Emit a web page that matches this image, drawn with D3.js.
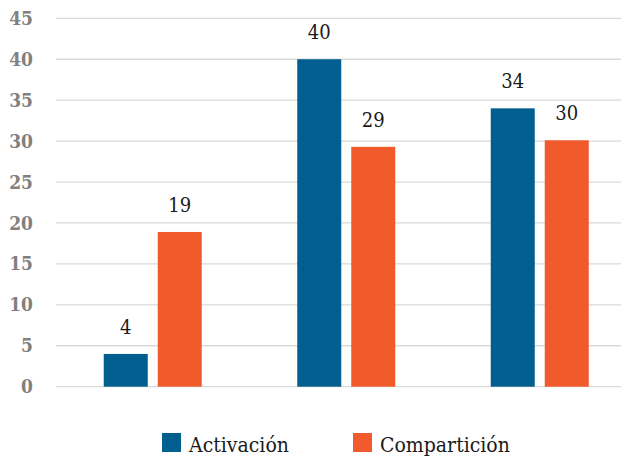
<!DOCTYPE html>
<html>
<head>
<meta charset="utf-8">
<script src="https://cdn.jsdelivr.net/npm/d3@7"></script>
<style>
  body { margin: 0; background: #fff; }
  svg { display: block; }
</style>
</head>
<body>
<div id="chart"></div>
<script>
const groups = ["1", "2", "3"];
const seriesNames = ["Activación", "Compartición"];
const seriesColors = ["#005f8e", "#f15a2b"];
const activacion = [4, 40, 34];
const comparticion = [18.9, 29.3, 30.1];
const yTicks = [0, 5, 10, 15, 20, 25, 30, 35, 40, 45];

const w = 621;
const h = 458;
const serif = "DejaVu Serif Condensed";

const svg = d3.select("#chart").append("svg")
  .attr("width", w)
  .attr("height", h);

const x0 = d3.scaleBand()
  .domain(groups)
  .range([56, 636.5]);

const x1 = d3.scaleBand()
  .domain(seriesNames)
  .range([0, x0.bandwidth()])
  .paddingInner(0.185)
  .paddingOuter(0.884);

const y = d3.scaleLinear()
  .domain([0, 45])
  .range([386.7, 18.3]);

// ---------- grid ----------
svg.append("g")
  .selectAll("line")
  .data(yTicks)
  .join("line")
  .attr("x1", 56)
  .attr("x2", w)
  .attr("y1", d => y(d))
  .attr("y2", d => y(d))
  .attr("stroke", "#d9d9d9")
  .attr("stroke-width", 1.3);

// ---------- y axis labels ----------
const yAxis = svg.append("g")
  .attr("transform", "translate(33,0)")
  .call(d3.axisLeft(y).tickValues(yTicks).tickSize(0).tickPadding(0));

yAxis.attr("font-family", serif).attr("font-size", 19).attr("font-weight", "bold");
yAxis.select(".domain").remove();
yAxis.selectAll("text")
  .attr("fill", "#808080");

// ---------- bars ----------
const rows = groups.map((g, i) => ({
  group: g,
  values: [
    { name: seriesNames[0], value: activacion[i], color: seriesColors[0] },
    { name: seriesNames[1], value: comparticion[i], color: seriesColors[1] }
  ]
}));

const fmt = d3.format(".0f");

const grp = svg.append("g")
  .selectAll("g")
  .data(rows)
  .join("g")
  .attr("transform", d => `translate(${x0(d.group)},0)`);

grp.selectAll("rect")
  .data(d => d.values)
  .join("rect")
  .attr("x", d => x1(d.name))
  .attr("y", d => y(d.value))
  .attr("width", x1.bandwidth())
  .attr("height", d => y(0) - y(d.value))
  .attr("fill", d => d.color);

grp.selectAll("text")
  .data(d => d.values)
  .join("text")
  .attr("x", d => x1(d.name) + x1.bandwidth() / 2)
  .attr("y", d => y(d.value) - 20)
  .attr("text-anchor", "middle")
  .attr("font-family", serif)
  .attr("font-size", 20)
  .attr("fill", "#1a1a1a")
  .text(d => fmt(d.value));

// ---------- legend ----------
const legendX = [162, 353];
const legend = svg.append("g")
  .selectAll("g")
  .data(seriesNames)
  .join("g")
  .attr("transform", (d, i) => `translate(${legendX[i]},433)`);

legend.append("rect")
  .attr("width", 19)
  .attr("height", 19)
  .attr("fill", (d, i) => seriesColors[i]);

legend.append("text")
  .attr("x", 27)
  .attr("y", 19)
  .attr("font-family", serif)
  .attr("font-size", 21)
  .attr("fill", "#1a1a1a")
  .text(d => d);
</script>
</body>
</html>
